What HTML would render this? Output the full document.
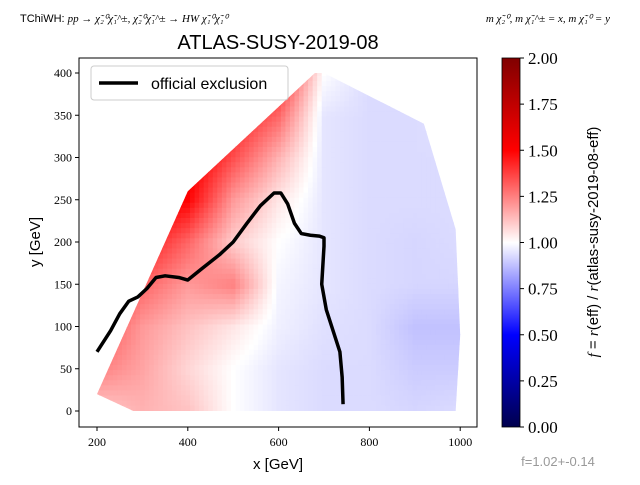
<!DOCTYPE html>
<html><head><meta charset="utf-8">
<style>
body{margin:0;background:#fff;}
svg text{font-family:"Liberation Sans",sans-serif;}
.serif{font-family:"Liberation Serif",serif;}
</style></head>
<body>
<svg id="chart" width="640" height="480" viewBox="0 0 640 480" xmlns="http://www.w3.org/2000/svg">
<defs>
<clipPath id="hullclip"><polygon id="hullpoly" points=""/></clipPath>
<linearGradient id="cbgrad" x1="0" y1="1" x2="0" y2="0">
<stop offset="0" stop-color="#00004d"/><stop offset="0.25" stop-color="#0000ff"/>
<stop offset="0.5" stop-color="#ffffff"/><stop offset="0.75" stop-color="#ff0000"/>
<stop offset="1" stop-color="#800000"/></linearGradient>
</defs>
<text x="20" y="22" font-size="11">TChiWH: <tspan class="serif" font-style="italic">pp → χ̃₂⁰χ̃₁^±, χ̃₂⁰χ̃₁^± → HW χ̃₁⁰χ̃₁⁰</tspan></text>
<text x="610" y="22" font-size="11" text-anchor="end" class="serif" font-style="italic">m χ̃₂⁰, m χ̃₁^± = x, m χ̃₁⁰ = y</text>
<text x="278" y="49" font-size="20" text-anchor="middle">ATLAS-SUSY-2019-08</text>
<g id="heat" clip-path="url(#hullclip)"></g>
<g id="axes"></g>
<path id="excl" fill="none" stroke="#000" stroke-width="3.5" stroke-linejoin="round"/>
<rect x="79" y="58" width="398" height="369" fill="none" stroke="#000" stroke-width="1"/>
<g>
<rect x="91" y="66" width="197" height="34" rx="3" fill="#fff" fill-opacity="0.85" stroke="#ccc"/>
<line x1="99" y1="83" x2="138" y2="83" stroke="#000" stroke-width="3.5"/>
<text x="151" y="89" font-size="16">official exclusion</text>
</g>
<text x="278" y="469" font-size="15" text-anchor="middle">x [GeV]</text>
<text x="40" y="242" font-size="15" text-anchor="middle" transform="rotate(-90 40 242)">y [GeV]</text>
<rect x="502" y="58" width="18" height="369" fill="url(#cbgrad)" stroke="#000" stroke-width="0.8"/>
<g id="cbticks"></g>
<text x="598" y="242" font-size="15" text-anchor="middle" transform="rotate(-90 598 242)"><tspan class="serif" font-style="italic">f</tspan> = <tspan class="serif" font-style="italic">r</tspan>(eff) / <tspan class="serif" font-style="italic">r</tspan>(atlas-susy-2019-08-eff)</text>
<text x="558" y="466" font-size="13" fill="#999" text-anchor="middle">f=1.02+-0.14</text>
</svg>
<script>
const xTicks=[200,400,600,800,1000];
const yTicks=[0,50,100,150,200,250,300,350,400];
const cbTicks=[0,0.25,0.5,0.75,1,1.25,1.5,1.75,2];
const gridX=[200,300,400,500,600,700,800,900,1000];
const gridY=[0,50,100,150,200,250,300,350,400];
const fRow0=[1.1,1.15,1.12,1.0,0.95,0.93,0.93,0.92,0.93];
const fRow50=[1.25,1.18,1.08,1.0,0.95,0.93,0.93,0.9,0.9];
const fRow100=[1.35,1.2,1.12,1.05,0.97,0.94,0.93,0.88,0.88];
const fRow150=[1.45,1.3,1.2,1.25,0.98,0.95,0.93,0.92,0.92];
const fRow200=[1.55,1.45,1.3,1.1,1.0,0.95,0.93,0.92,0.93];
const fRow250=[1.6,1.55,1.5,1.2,1.05,0.95,0.93,0.93,0.93];
const fRow300=[1.6,1.6,1.55,1.35,1.15,0.95,0.93,0.93,0.93];
const fRow350=[1.6,1.6,1.55,1.45,1.3,0.95,0.93,0.93,0.95];
const fRow400=[1.6,1.6,1.6,1.5,1.45,1.0,0.93,0.93,0.95];
const hullX=[200,280,990,1000,990,920,700,680,400];
const hullY=[20,0,0,90,215,340,400,400,260];
const exclX=[200,230,250,270,290,310,330,350,380,400,430,470,500,530,560,590,605,620,635,650,670,690,700,700,695,705,720,735,740,742];
const exclY=[70,95,115,130,135,145,158,160,158,155,168,185,200,222,243,258,258,245,222,210,208,207,205,195,150,120,95,70,40,8];
const fGrid=[fRow0,fRow50,fRow100,fRow150,fRow200,fRow250,fRow300,fRow350,fRow400];
const NS='http://www.w3.org/2000/svg';
const X=v=>97+(v-200)*0.454;
const Y=v=>411-v*0.845;
const CB=v=>427-v/2*369;
function mk(t,a,p){const e=document.createElementNS(NS,t);for(const k in a)e.setAttribute(k,a[k]);p.appendChild(e);return e;}
function cmap(f){const t=Math.max(0,Math.min(1,f/2));const st=[[0,0,0,77],[0.25,0,0,255],[0.5,255,255,255],[0.75,255,0,0],[1,128,0,0]];
for(let i=0;i<4;i++){if(t<=st[i+1][0]){const u=(t-st[i][0])/(st[i+1][0]-st[i][0]);return 'rgb('+[1,2,3].map(j=>Math.round(st[i][j]+u*(st[i+1][j]-st[i][j]))).join(',')+')';}}return 'rgb(128,0,0)';}
function fAt(x,y){let i=Math.min(7,Math.max(0,Math.floor((x-200)/100)));let j=Math.min(7,Math.max(0,Math.floor(y/50)));
const u=Math.max(0,Math.min(1,(x-gridX[i])/100)),v=Math.max(0,Math.min(1,(y-gridY[j])/50));
return fGrid[j][i]*(1-u)*(1-v)+fGrid[j][i+1]*u*(1-v)+fGrid[j+1][i]*(1-u)*v+fGrid[j+1][i+1]*u*v;}
document.getElementById('hullpoly').setAttribute('points',hullX.map((x,i)=>X(x)+','+Y(hullY[i])).join(' '));
const heat=document.getElementById('heat');
for(let gx=195;gx<1005;gx+=10){for(let gy=-5;gy<405;gy+=6){
const r=mk('rect',{x:X(gx),y:Y(gy+6),width:10*0.454+0.5,height:6*0.845+0.5,fill:cmap(fAt(gx+5,gy+3))},heat);

}}
const ax=document.getElementById('axes');
xTicks.forEach(v=>{mk('line',{x1:X(v),x2:X(v),y1:427,y2:431,stroke:'#000'},ax);
const t=mk('text',{x:X(v),y:446,'font-size':12,'text-anchor':'middle',class:'serif'},ax);t.textContent=v;

});
yTicks.forEach(v=>{mk('line',{x1:75,x2:79,y1:Y(v),y2:Y(v),stroke:'#000'},ax);
const t=mk('text',{x:72,y:Y(v)+4,'font-size':12,'text-anchor':'end',class:'serif'},ax);t.textContent=v;

});
const cb=document.getElementById('cbticks');
cbTicks.forEach(v=>{mk('line',{x1:520,x2:524,y1:CB(v),y2:CB(v),stroke:'#000'},cb);
const t=mk('text',{x:528,y:CB(v)+6,'font-size':17,class:'serif'},cb);t.textContent=v.toFixed(2);

});
document.getElementById('excl').setAttribute('d',exclX.map((x,i)=>(i?'L':'M')+X(x)+','+Y(exclY[i])).join(' '));
</script>
</body></html>
